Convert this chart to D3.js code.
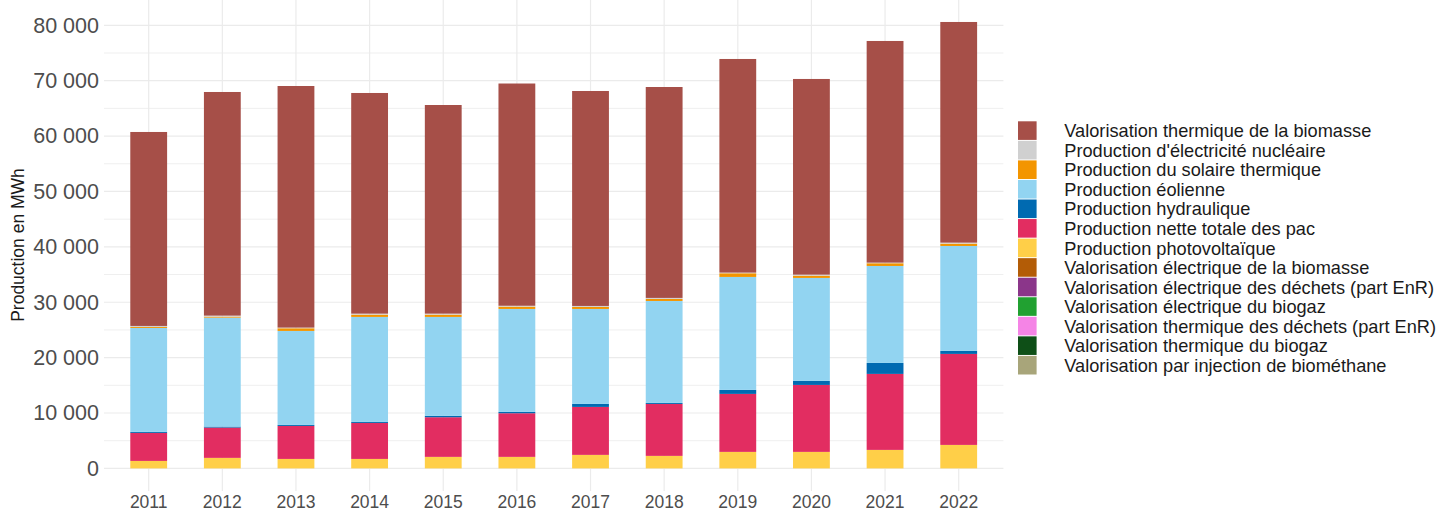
<!DOCTYPE html>
<html>
<head>
<meta charset="utf-8">
<script src="https://cdn.jsdelivr.net/npm/d3@7"></script>
<style>
  html, body { margin: 0; padding: 0; background: #ffffff; }
  svg { display: block; font-family: "Liberation Sans", Arial, Helvetica, sans-serif; }
</style>
</head>
<body>
<svg id="chart" width="1437" height="510"></svg>
<script>
// ---------- DATA ----------
const years = ["2011","2012","2013","2014","2015","2016","2017","2018","2019","2020","2021","2022"];

// Legend / factor order (top of legend = top of stack)
const seriesNames = [
  "Valorisation thermique de la biomasse",
  "Production d'électricité nucléaire",
  "Production du solaire thermique",
  "Production éolienne",
  "Production hydraulique",
  "Production nette totale des pac",
  "Production photovoltaïque",
  "Valorisation électrique de la biomasse",
  "Valorisation électrique des déchets (part EnR)",
  "Valorisation électrique du biogaz",
  "Valorisation thermique des déchets (part EnR)",
  "Valorisation thermique du biogaz",
  "Valorisation par injection de biométhane"
];

const seriesColors = [
  "#A64F48", "#D0D0D0", "#F39500", "#92D4F1", "#006AB1", "#E22D61", "#FFCF48",
  "#B35C06", "#8B368A", "#21A131", "#F584E6", "#0E4F17", "#A8A57A"
];

// values in MWh, per year
const thermiqueBiomasse = [35020, 40380, 43620, 39840, 37670, 40130, 38810, 38080, 38570, 35330, 40020, 39840];
const nucleaire         = [  180,   180,   120,   180,   180,   150,   180,   180,   120,   180,   110,   180];
const solaireThermique  = [  180,   180,   480,   410,   410,   420,   360,   370,   660,   410,   490,   420];
const eolien            = [18770, 19670, 16970, 18960, 17870, 18590, 17150, 18410, 20400, 18600, 17510, 18950];
const hydraulique       = [  180,   180,   180,   180,   240,   240,   540,   180,   720,   720,  1980,   540];
const pac               = [ 5060,  5470,  5960,  6500,  7160,  7880,  8660,  9380, 10470, 12090, 13720, 16430];
const photovoltaique    = [ 1350,  1900,  1710,  1710,  2080,  2080,  2440,  2260,  2980,  2980,  3340,  4240];
const electriqueBiomasse = [0,0,0,0,0,0,0,0,0,0,0,0];
const electriqueDechets  = [0,0,0,0,0,0,0,0,0,0,0,0];
const electriqueBiogaz   = [0,0,0,0,0,0,0,0,0,0,0,0];
const thermiqueDechets   = [0,0,0,0,0,0,0,0,0,0,0,0];
const thermiqueBiogaz    = [0,0,0,0,0,0,0,0,0,0,0,0];
const biomethane         = [0,0,0,0,0,0,0,0,0,0,0,0];

const seriesValues = [
  thermiqueBiomasse, nucleaire, solaireThermique, eolien, hydraulique, pac, photovoltaique,
  electriqueBiomasse, electriqueDechets, electriqueBiogaz, thermiqueDechets, thermiqueBiogaz, biomethane
];

const yTicks = [0, 10000, 20000, 30000, 40000, 50000, 60000, 70000, 80000];
const yMinorTicks = [5000, 15000, 25000, 35000, 45000, 55000, 65000, 75000];
const yTitle = "Production en MWh";

// ---------- BUILD TABLE ----------
const keys = seriesNames.slice();
const table = years.map((y, i) => {
  const row = { year: y };
  keys.forEach((k, j) => { row[k] = seriesValues[j][i]; });
  return row;
});

// stack: last factor level at bottom
const stack = d3.stack().keys(keys.slice().reverse());
const stacked = stack(table);

// ---------- SCALES ----------
const svg = d3.select("#chart");
const panel = { left: 104, right: 1003.4, top: 0, bottom: 491 };

const x = d3.scaleBand()
  .domain(years)
  .range([panel.left, panel.right])
  .paddingInner(0.5)
  .paddingOuter(0.357);

const y = d3.scaleLinear()
  .domain([0, 80000])
  .range([468.4, 25.3]);

const color = d3.scaleOrdinal().domain(seriesNames).range(seriesColors);

// ---------- GRID ----------
const grid = svg.append("g");
grid.selectAll("line.minor").data(yMinorTicks).enter().append("line")
  .attr("x1", panel.left).attr("x2", panel.right)
  .attr("y1", d => y(d)).attr("y2", d => y(d))
  .attr("stroke", "#EFEFEF").attr("stroke-width", 1);
grid.selectAll("line.major").data(yTicks).enter().append("line")
  .attr("x1", panel.left).attr("x2", panel.right)
  .attr("y1", d => y(d)).attr("y2", d => y(d))
  .attr("stroke", "#EBEBEB").attr("stroke-width", 1.2);
grid.selectAll("line.vert").data(years).enter().append("line")
  .attr("x1", d => x(d) + x.bandwidth() / 2).attr("x2", d => x(d) + x.bandwidth() / 2)
  .attr("y1", panel.top).attr("y2", panel.bottom)
  .attr("stroke", "#EBEBEB").attr("stroke-width", 1.2);

// ---------- BARS ----------
const layers = svg.append("g").selectAll("g").data(stacked).enter().append("g")
  .attr("fill", d => color(d.key));
layers.selectAll("rect").data(d => d).enter().append("rect")
  .attr("x", d => x(d.data.year))
  .attr("width", x.bandwidth())
  .attr("y", d => y(d[1]))
  .attr("height", d => Math.max(0, y(d[0]) - y(d[1])));

// ---------- AXES ----------
const fmt = v => d3.format(",")(v).replace(/,/g, " ");

const yAxis = d3.axisLeft(y).tickValues(yTicks).tickFormat(fmt).tickSize(0).tickPadding(5);
const yg = svg.append("g").attr("transform", `translate(${panel.left},0)`).call(yAxis);
yg.select(".domain").remove();
yg.selectAll("text").attr("font-size", 21.5).attr("fill", "#4D4D4D")
  .attr("font-family", "Liberation Sans, Arial, sans-serif");

const xAxis = d3.axisBottom(x).tickSize(0).tickPadding(0);
const xg = svg.append("g").attr("transform", `translate(0,${panel.bottom})`).call(xAxis);
xg.select(".domain").remove();
xg.selectAll("text").attr("font-size", 17.5).attr("fill", "#4D4D4D")
  .attr("dy", null).attr("y", 16.5)
  .attr("font-family", "Liberation Sans, Arial, sans-serif");

svg.append("text")
  .attr("transform", "translate(24,245) rotate(-90)")
  .attr("text-anchor", "middle")
  .attr("font-size", 17.5)
  .attr("fill", "#1A1A1A")
  .text(yTitle);

// ---------- LEGEND ----------
const legend = svg.append("g").attr("transform", "translate(1018,121.3)");
const items = legend.selectAll("g").data(seriesNames).enter().append("g")
  .attr("transform", (d, i) => `translate(0,${i * 19.55})`);
items.append("rect")
  .attr("width", 18.6).attr("height", 18.6)
  .attr("fill", d => color(d));
items.append("text")
  .attr("x", 46.3).attr("y", 9.6).attr("dy", "0.35em")
  .attr("font-size", 18.2).attr("fill", "#1A1A1A")
  .text(d => d);
</script>
</body>
</html>
